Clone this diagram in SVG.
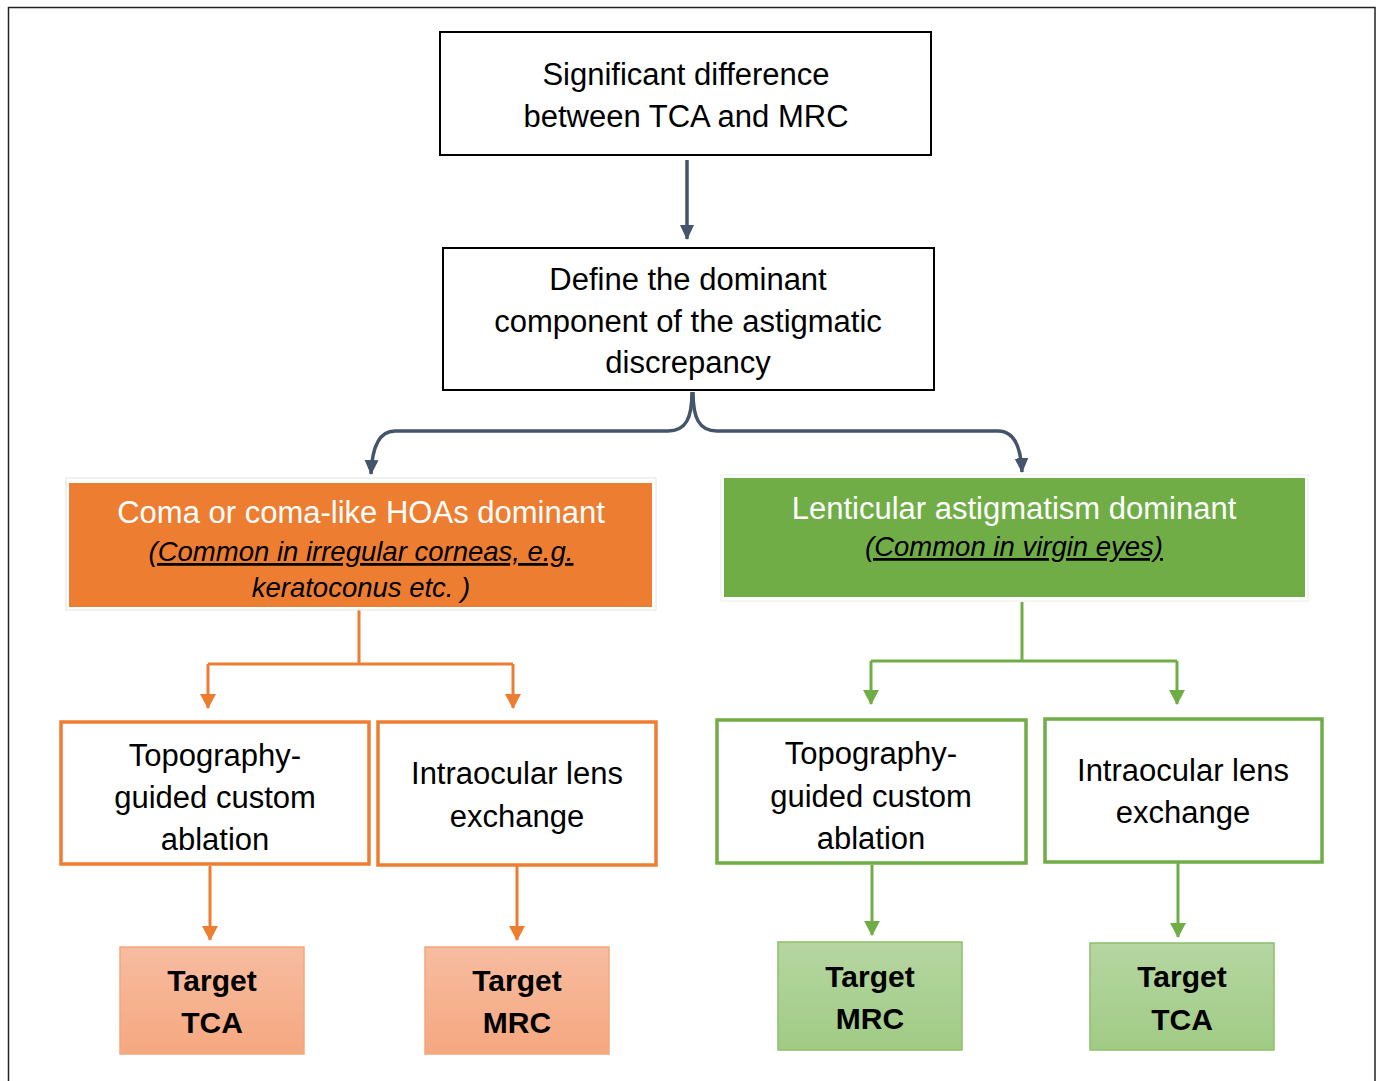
<svg xmlns="http://www.w3.org/2000/svg" width="1382" height="1081" viewBox="0 0 1382 1081">
<style>
.t{font-family:"Liberation Sans",Arial,sans-serif;font-size:31px;text-anchor:middle;fill:#000}
.w{fill:#fff}
.i{font-family:"Liberation Sans",Arial,sans-serif;font-size:27.5px;font-style:italic;text-anchor:middle;fill:#000}
.u{text-decoration:underline}
.b{font-family:"Liberation Sans",Arial,sans-serif;font-size:30px;font-weight:bold;text-anchor:middle;fill:#000}
.blk{fill:#fff;stroke:#000;stroke-width:2}
.ob{fill:#fff;stroke:#ed7d31;stroke-width:3.5}
.gb{fill:#fff;stroke:#70ad47;stroke-width:3.5}
.cs{fill:none;stroke:#44546a;stroke-width:3.5}
.co{fill:none;stroke:#ed7d31;stroke-width:3}
.cg{fill:none;stroke:#70ad47;stroke-width:3}
</style>
<defs>
<marker id="ao" markerWidth="16" markerHeight="16" refX="14" refY="8" orient="auto" markerUnits="userSpaceOnUse" viewBox="0 0 16 16"><path d="M0,0 L15,8 L0,16 Z" fill="#ed7d31"/></marker>
<marker id="ag" markerWidth="16" markerHeight="16" refX="14" refY="8" orient="auto" markerUnits="userSpaceOnUse" viewBox="0 0 16 16"><path d="M0,0 L15,8 L0,16 Z" fill="#70ad47"/></marker>
<marker id="ad" markerWidth="16" markerHeight="16" refX="14" refY="8" orient="auto" markerUnits="userSpaceOnUse" viewBox="0 0 16 16"><path d="M0,1 L15,8 L0,15 Z" fill="#44546a"/></marker>
<linearGradient id="go" x1="0" y1="0" x2="0" y2="1"><stop offset="0" stop-color="#f7bca0"/><stop offset="1" stop-color="#f5a880"/></linearGradient>
<linearGradient id="gg" x1="0" y1="0" x2="0" y2="1"><stop offset="0" stop-color="#b6d6a2"/><stop offset="1" stop-color="#a0cb84"/></linearGradient>
</defs>
<rect width="1382" height="1081" fill="#fff"/>
<rect x="8.5" y="7.5" width="1366.5" height="1090" fill="none" stroke="#222" stroke-width="1.5"/>

<g id="connectors">
<path class="cs" d="M687,160 L687,239" marker-end="url(#ad)"/>
<path class="cs" d="M692,392 C692,418 686,431 668,431 L395,431 C379,431 372,448 371,474" marker-end="url(#ad)"/>
<path class="cs" d="M693,392 C693,418 699,431 717,431 L998,431 C1014,431 1021,448 1022,472" marker-end="url(#ad)"/>
<path class="co" d="M359,610 L359,664"/>
<path class="co" d="M208,664 L513,664"/>
<path class="co" d="M208,664 L208,708" marker-end="url(#ao)"/>
<path class="co" d="M513,664 L513,708" marker-end="url(#ao)"/>
<path class="co" d="M210,866 L210,940" marker-end="url(#ao)"/>
<path class="co" d="M517,866 L517,940" marker-end="url(#ao)"/>
<path class="cg" d="M1022,602 L1022,661"/>
<path class="cg" d="M871,661 L1177,661"/>
<path class="cg" d="M871,661 L871,704" marker-end="url(#ag)"/>
<path class="cg" d="M1177,661 L1177,704" marker-end="url(#ag)"/>
<path class="cg" d="M872,865 L872,935" marker-end="url(#ag)"/>
<path class="cg" d="M1178,863 L1178,937" marker-end="url(#ag)"/>
</g>

<g id="n1">
<rect class="blk" x="440" y="32" width="491" height="123"/>
<text class="t" x="686" y="85">Significant difference</text>
<text class="t" x="686" y="127">between TCA and MRC</text>
</g>

<g id="n2">
<rect class="blk" x="443" y="248" width="491" height="142"/>
<text class="t" x="688" y="290">Define the dominant</text>
<text class="t" x="688" y="332">component of the astigmatic</text>
<text class="t" x="688" y="373">discrepancy</text>
</g>

<g id="n3">
<rect x="66" y="478" width="590" height="132" fill="none" stroke="#e4e4e4" stroke-width="1"/>
<rect x="69" y="483" width="583" height="124" fill="#ed7d31"/>
<text class="t w" x="361" y="523">Coma or coma-like HOAs dominant</text>
<text class="i u" x="361" y="561">(Common in irregular corneas, e.g.</text>
<text class="i" x="361" y="597">keratoconus etc. )</text>
</g>

<g id="n4">
<rect x="721" y="475" width="587" height="126" fill="none" stroke="#e8efe4" stroke-width="1"/>
<rect x="724" y="478" width="581" height="119" fill="#70ad47"/>
<text class="t w" x="1014" y="519">Lenticular astigmatism dominant</text>
<text class="i u" x="1014" y="556">(Common in virgin eyes)</text>
</g>

<g id="n5">
<rect class="ob" x="61" y="722" width="308" height="142"/>
<text class="t" x="215" y="766">Topography-</text>
<text class="t" x="215" y="808">guided custom</text>
<text class="t" x="215" y="850">ablation</text>
</g>

<g id="n6">
<rect class="ob" x="378" y="722" width="278" height="143"/>
<text class="t" x="517" y="784">Intraocular lens</text>
<text class="t" x="517" y="827">exchange</text>
</g>

<g id="n7">
<rect class="gb" x="717" y="720" width="309" height="143"/>
<text class="t" x="871" y="764">Topography-</text>
<text class="t" x="871" y="807">guided custom</text>
<text class="t" x="871" y="849">ablation</text>
</g>

<g id="n8">
<rect class="gb" x="1045" y="719" width="277" height="143"/>
<text class="t" x="1183" y="781">Intraocular lens</text>
<text class="t" x="1183" y="823">exchange</text>
</g>

<g id="n9">
<rect x="120" y="947" width="184" height="107" fill="url(#go)" stroke="#f4a77c" stroke-width="1.5"/>
<text class="b" x="212" y="991">Target</text>
<text class="b" x="212" y="1033">TCA</text>
</g>

<g id="n10">
<rect x="425" y="947" width="184" height="107" fill="url(#go)" stroke="#f4a77c" stroke-width="1.5"/>
<text class="b" x="517" y="991">Target</text>
<text class="b" x="517" y="1033">MRC</text>
</g>

<g id="n11">
<rect x="778" y="942" width="184" height="108" fill="url(#gg)" stroke="#8cc06a" stroke-width="1.5"/>
<text class="b" x="870" y="987">Target</text>
<text class="b" x="870" y="1029">MRC</text>
</g>

<g id="n12">
<rect x="1090" y="943" width="184" height="107" fill="url(#gg)" stroke="#8cc06a" stroke-width="1.5"/>
<text class="b" x="1182" y="987">Target</text>
<text class="b" x="1182" y="1030">TCA</text>
</g>
</svg>
